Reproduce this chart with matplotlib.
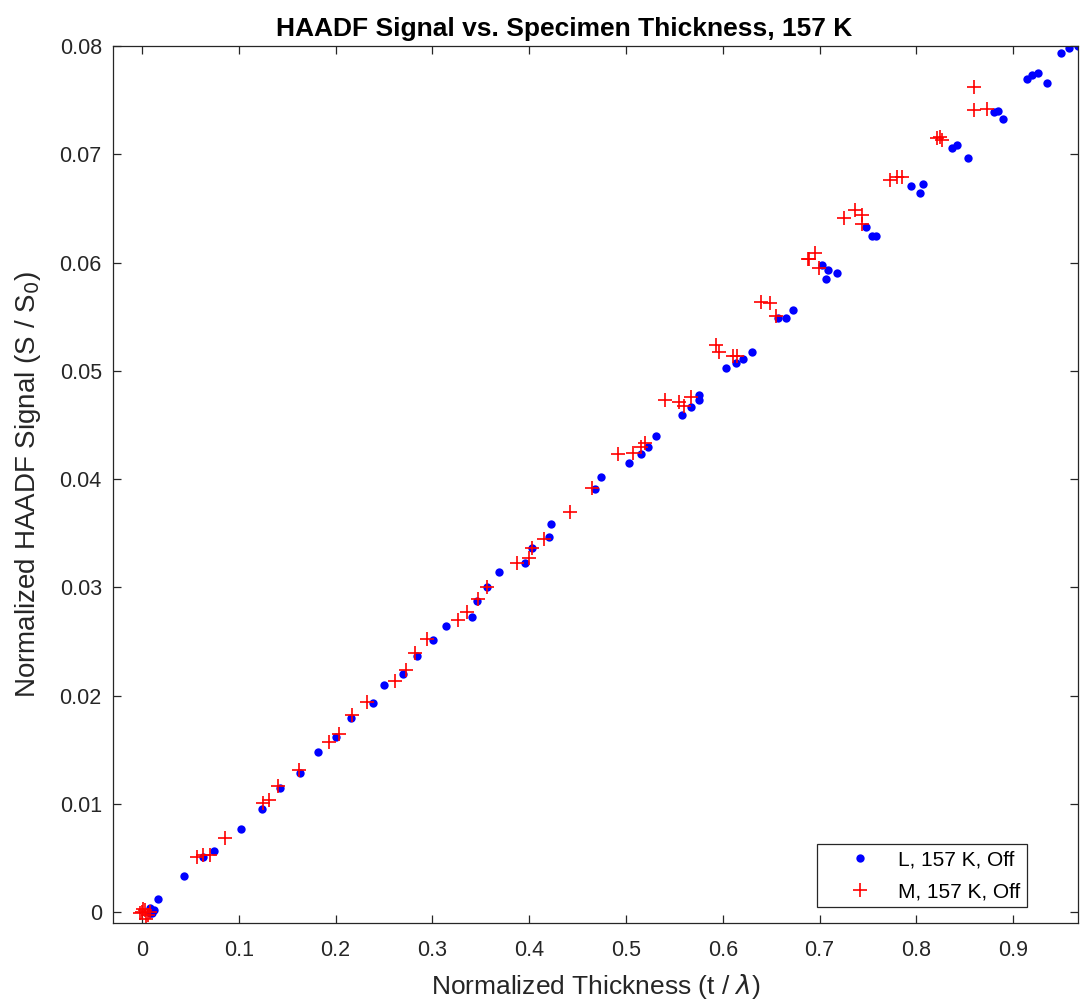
import matplotlib.pyplot as plt

plt.rcParams['font.family'] = ['Liberation Sans', 'DejaVu Sans']

# L, 157 K, Off  (blue dots)
l_thick = [0.008, 0.008, 0.010, 0.012, 0.0165, 0.0434, 0.063, 0.0744, 0.102, 0.124,
           0.1426, 0.163, 0.182, 0.2005, 0.216, 0.2386, 0.250, 0.2696, 0.284, 0.3006,
           0.314, 0.341, 0.346, 0.356, 0.369, 0.3957, 0.403, 0.420, 0.4225, 0.468,
           0.474, 0.503, 0.5155, 0.5227, 0.531, 0.558, 0.567, 0.5754, 0.5754, 0.603,
           0.614, 0.621, 0.630, 0.657, 0.665, 0.6725, 0.7025, 0.7087, 0.7066, 0.718,
           0.748, 0.754, 0.758, 0.794, 0.804, 0.807, 0.837, 0.842, 0.853, 0.880,
           0.884, 0.889, 0.914, 0.919, 0.9256, 0.935, 0.949, 0.9576, 0.967]
l_signal = [-0.0001, 0.0004, -0.0001, 0.0002, 0.0012, 0.0033, 0.0051, 0.0057, 0.0077, 0.0095,
            0.0115, 0.0129, 0.0148, 0.0162, 0.0179, 0.0193, 0.0210, 0.0220, 0.02365, 0.0251,
            0.0264, 0.0273, 0.0287, 0.0300, 0.0314, 0.0323, 0.0336, 0.0347, 0.0359, 0.0391,
            0.0402, 0.0415, 0.0423, 0.0430, 0.0440, 0.0459, 0.0467, 0.0473, 0.0478, 0.0503,
            0.0507, 0.0511, 0.0517, 0.0549, 0.0549, 0.0556, 0.0598, 0.0593, 0.0585, 0.0590,
            0.0633, 0.0625, 0.0625, 0.0671, 0.0664, 0.0673, 0.0706, 0.0709, 0.0697, 0.0739,
            0.0740, 0.0733, 0.0770, 0.0773, 0.0775, 0.0766, 0.0794, 0.0798, 0.0800]

# M, 157 K, Off  (red plus)
m_thick = [0.0, 0.003, 0.006, -0.002, 0.008, 0.004, 0.001, 0.0568, 0.063, 0.070,
           0.0857, 0.125, 0.131, 0.1405, 0.162, 0.193, 0.2035, 0.217, 0.232, 0.261,
           0.273, 0.282, 0.294, 0.326, 0.336, 0.347, 0.356, 0.387, 0.400, 0.403,
           0.415, 0.442, 0.465, 0.492, 0.507, 0.5155, 0.520, 0.540, 0.555, 0.560,
           0.567, 0.593, 0.596, 0.6105, 0.615, 0.639, 0.649, 0.655, 0.688, 0.689,
           0.695, 0.699, 0.725, 0.7366, 0.744, 0.744, 0.773, 0.780, 0.785, 0.821,
           0.824, 0.826, 0.860, 0.860, 0.873]
m_signal = [0.0, 0.0002, -0.0003, -0.0001, 0.0, -0.0006, 0.0003, 0.0051, 0.0053, 0.0053,
            0.0069, 0.0101, 0.0104, 0.0117, 0.0131, 0.0157, 0.0165, 0.0182, 0.0194, 0.0214,
            0.0224, 0.0239, 0.0252, 0.0270, 0.0277, 0.0289, 0.0300, 0.0323, 0.0327, 0.0336,
            0.0345, 0.0370, 0.0392, 0.0423, 0.0424, 0.0430, 0.0433, 0.0473, 0.0471, 0.0468,
            0.0476, 0.0524, 0.0517, 0.0514, 0.0514, 0.0564, 0.0563, 0.0551, 0.0603, 0.0603,
            0.0609, 0.0595, 0.0641, 0.0649, 0.0644, 0.0636, 0.0676, 0.0679, 0.0679, 0.0715,
            0.0716, 0.0713, 0.0762, 0.0741, 0.0742]

x_ticks = [0, 0.1, 0.2, 0.3, 0.4, 0.5, 0.6, 0.7, 0.8, 0.9]
x_labels = ['0', '0.1', '0.2', '0.3', '0.4', '0.5', '0.6', '0.7', '0.8', '0.9']
y_ticks = [0, 0.01, 0.02, 0.03, 0.04, 0.05, 0.06, 0.07, 0.08]
y_labels = ['0', '0.01', '0.02', '0.03', '0.04', '0.05', '0.06', '0.07', '0.08']

dark = '#262626'

fig = plt.figure(figsize=(10.83, 10.02), dpi=100)
ax = fig.add_axes([0.1043, 0.0788, 0.8911, 0.8752])

ax.plot(l_thick, l_signal, linestyle='none', marker='o', color='b',
        markersize=6, markeredgewidth=0, label='L, 157 K, Off')
ax.plot(m_thick, m_signal, linestyle='none', marker='+', color='r',
        markersize=10, markeredgewidth=1.2, label='M, 157 K, Off')

ax.set_xlim(-0.03, 0.967)
ax.set_ylim(-0.001, 0.08)
ax.set_xticks(x_ticks)
ax.set_xticklabels(x_labels)
ax.set_yticks(y_ticks)
ax.set_yticklabels(y_labels)

ax.tick_params(direction='in', length=6, width=0.9, top=True, right=True,
               labelsize=15.5, colors=dark, pad=12)
ax.tick_params(axis='y', pad=8)
for s in ax.spines.values():
    s.set_color(dark)
    s.set_linewidth(0.9)

ax.set_title('HAADF Signal vs. Specimen Thickness, 157 K', fontsize=19,
             fontweight='bold', color='black', pad=7, x=0.467)
ax.set_xlabel('Normalized Thickness (t / $\\lambda$)', fontsize=19, color=dark, labelpad=8)
ax.set_ylabel('Normalized HAADF Signal (S / S$_0$)', fontsize=20, color=dark, labelpad=12)

leg = ax.legend(loc='lower right', bbox_to_anchor=(0.947, 0.018), borderaxespad=0,
                fontsize=15, fancybox=False, edgecolor=dark, framealpha=1,
                handlelength=3.5, handletextpad=0.1, borderpad=0.3, labelspacing=0.6)
leg.get_frame().set_linewidth(0.9)

fig.savefig('out.png', dpi=100)
